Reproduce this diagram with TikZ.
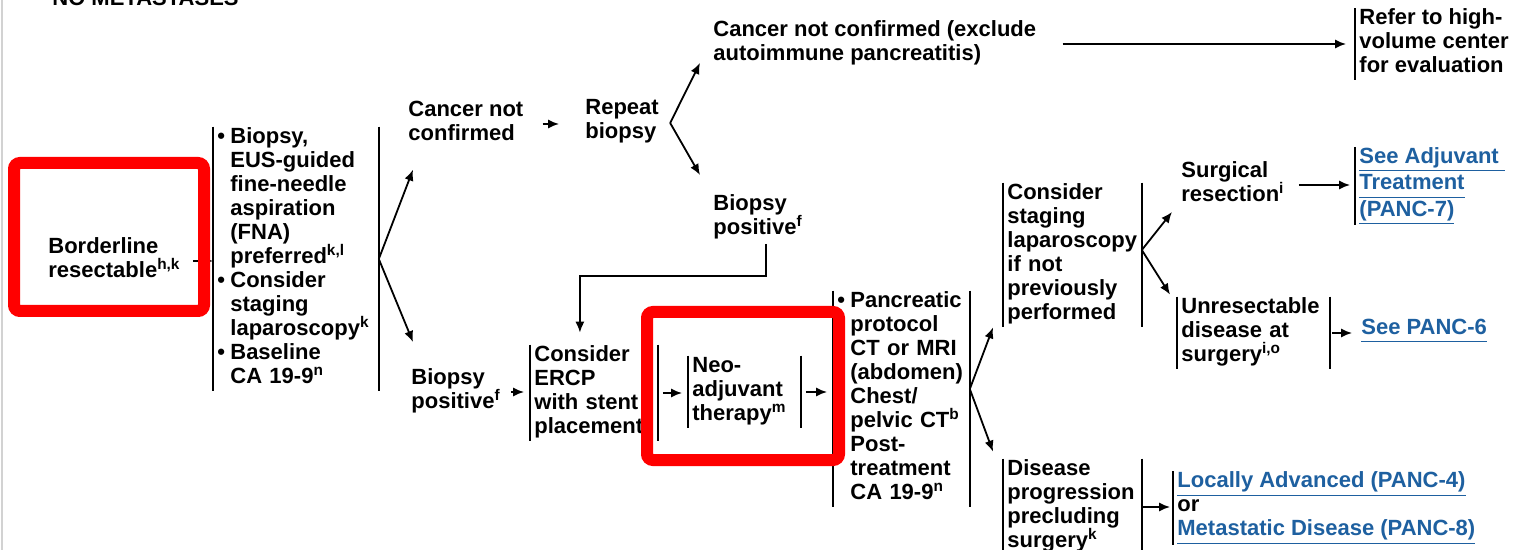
\documentclass[tikz,border=0pt]{standalone}
\usepackage{fontspec}
\setmainfont{Liberation Sans}
\usepackage{tikz}
\usetikzlibrary{arrows.meta}
\definecolor{linkblue}{RGB}{30,96,160}
\definecolor{markred}{RGB}{255,0,0}
\newcommand{\flowfont}{\fontsize{11}{12}\selectfont\bfseries\hyphenpenalty=10000\exhyphenpenalty=10000}
\newcommand{\bl}{\makebox[6.5pt][l]{\textbullet}}
\newcommand{\ind}{\hspace*{6.5pt}}
\newcommand{\lnk}[1]{\textcolor{linkblue}{\underline{#1\vphantom{(y}}}}

\begin{document}
\begin{tikzpicture}[x=0.5pt, y=-0.5pt, >={Latex[length=5.5pt,width=4.6pt]},
    txt/.style={font=\flowfont, align=left, anchor=west, inner xsep=2pt, inner ysep=0pt,
      execute at begin node=\strut, execute at end node=\strut},
    bars/.style={txt, append after command={
      (\tikzlastnode.north west) edge[bar] (\tikzlastnode.south west)
      (\tikzlastnode.north east) edge[bar] (\tikzlastnode.south east)}},
    lbar/.style={txt, append after command={
      (\tikzlastnode.north west) edge[bar] (\tikzlastnode.south west)}},
    bar/.style={-, line width=1.1pt},
    arr/.style={->, line width=0.9pt},
    hilite/.style={draw=markred, line width=6pt, rounded corners=3pt}]
    \useasboundingbox (0,0) rectangle (1518,550);
    \fill[white] (0,0) rectangle (1518,550);
    \clip (0,0) rectangle (1518,550);

    % frame edge and heading
    \draw[gray!35, line width=1pt] (2,0) -- (2,550);
    \node[txt, anchor=base west] (title) at (48,6) {NO METASTASES};

    % workup
    \node[txt] (border) at (44,261) {Borderline\\resectable\textsuperscript{h,k}};
    \node[bars, text width=78.5pt] (biopsy) at (213,259) {\bl Biopsy,\\\ind EUS-guided\\\ind fine-needle\\\ind aspiration\\\ind (FNA)\\\ind preferred\textsuperscript{k,l}\\\bl Consider\\\ind staging\\\ind laparoscopy\textsuperscript{k}\\\bl Baseline\\\ind CA 19-9\textsuperscript{n}};

    % biopsy results
    \node[txt] (cnc) at (404,124) {Cancer not\\confirmed};
    \node[txt] (rep) at (581,123) {Repeat\\biopsy};
    \node[txt] (excl) at (709,44) {Cancer not confirmed (exclude\\autoimmune pancreatitis)};
    \node[lbar] (refer) at (1355,44) {Refer to high-\\volume center\\for evaluation};
    \node[txt] (bposa) at (709,218) {Biopsy\\positive\textsuperscript{f}};
    \node[txt] (bposb) at (407,392) {Biopsy\\positive\textsuperscript{f}};

    % treatment
    \node[bars, text width=59.5pt] (ercp) at (530,393) {Consider\\ERCP\\with stent\\placement};
    \node[bars, text width=52pt] (neo) at (688,392) {Neo-\\adjuvant\\therapy\textsuperscript{m}};
    \node[bars, text width=64pt] (panc) at (833,399) {\bl Pancreatic\\\ind protocol\\\ind CT or MRI\\\ind (abdomen)\\\ind Chest/\\\ind pelvic CT\textsuperscript{b}\\\ind Post-\\\ind treatment\\\ind CA 19-9\textsuperscript{n}};

    % restaging
    \node[bars, text width=65pt] (staging) at (1003,255) {Consider\\staging\\laparoscopy\\if not\\previously\\performed};
    \node[bars, text width=65pt] (disease) at (1003,507) {Disease\\progression\\precluding\\surgery\textsuperscript{k}};
    \node[txt] (surg) at (1177,185) {Surgical\\resection\textsuperscript{i}};
    \node[bars, text width=72pt] (unres) at (1177,333) {Unresectable\\disease at\\surgery\textsuperscript{i,o}};
    \node[lbar] (adj) at (1355,186) {\lnk{See Adjuvant\ }\\\lnk{Treatment}\\\lnk{(PANC-7)}};
    \node[txt] (panc6) at (1357,330) {\lnk{See PANC-6}};
    \node[lbar] (adv) at (1173,508) {\lnk{Locally Advanced (PANC-4)}\\or\\\lnk{Metastatic Disease (PANC-8)}};

    % connections
    \draw[arr, shorten <=4pt] (border.east) -- (border.east -| biopsy.west);
    \draw[arr] (biopsy.east) -- ([shift={(9,22)}]cnc.south west);
    \draw[arr] (biopsy.east) -- ([shift={(6,-26)}]bposb.north west);
    \draw[arr, shorten <=7.5pt, shorten >=11pt] (cnc.east) -- (cnc.east -| rep.west);
    \draw[arr] ([xshift=3.5pt]rep.east) -- ([shift={(-9,-5)}]excl.south west);
    \draw[arr] ([xshift=3.5pt]rep.east) -- ([shift={(-9,-19)}]bposa.north west);
    \draw[arr, shorten <=11pt, shorten >=4.5pt] (excl.east) -- (excl.east -| refer.west);
    \draw[arr, shorten <=1pt] ([xshift=4pt]bposa.south) -- ++(0,34) -| ([shift={(-14,-12)}]ercp.north);
    \draw[arr, shorten <=3pt, shorten >=3pt] (bposb.east) -- (bposb.east -| ercp.west);
    \draw[arr, shorten <=2.5pt, shorten >=3pt] (ercp.east) -- (ercp.east -| neo.west);
    \draw[arr, shorten <=2.5pt, shorten >=3pt] (neo.east) -- (neo.east -| panc.west);
    \draw[arr] ([yshift=5pt]panc.east) -- ([shift={(-10,0)}]staging.south west);
    \draw[arr] ([yshift=5pt]panc.east) -- ([shift={(-10,-7)}]disease.north west);
    \draw[arr] ([yshift=2.5pt]staging.east) -- ([shift={(-5,3)}]surg.south west);
    \draw[arr] ([yshift=2.5pt]staging.east) -- ([shift={(-7,-2)}]unres.north west);
    \draw[arr, shorten <=5pt, shorten >=2.5pt] (surg.east) -- (surg.east -| adj.west);
    \draw[arr, shorten <=1pt, shorten >=2.5pt] (unres.east) -- (unres.east -| panc6.west);
    \draw[arr, shorten >=1.5pt] (disease.east) -- (disease.east -| adv.west);

    % highlights
    \draw[hilite] (14,163) rectangle (204,311);
    \draw[hilite] (647,312) rectangle (839,460);
\end{tikzpicture}
\end{document}
